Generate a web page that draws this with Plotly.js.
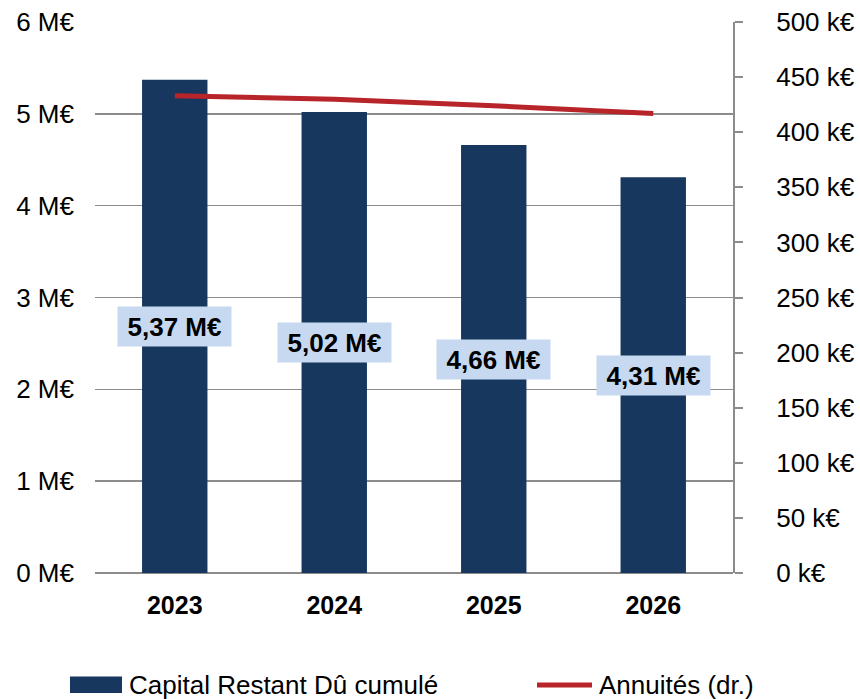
<!DOCTYPE html>
<html>
<head>
<meta charset="utf-8">
<script src="https://cdn.plot.ly/plotly-3.0.1.min.js"></script>
<style>html,body{margin:0;padding:0;background:#fff;}#chart{width:860px;height:699px;}</style>
</head>
<body>
<div id="chart"></div>
<script>
const years = ['2023', '2024', '2025', '2026'];
const capitalRestantDu = [5.37, 5.02, 4.66, 4.31];   // M€
const annuites = [433, 430, 424, 417];                // k€
const seriesNames = ['Capital Restant Dû cumulé', 'Annuités (dr.)'];

const FONT = 'Liberation Sans, Arial, sans-serif';
const BAR_COLOR = '#17375e';
const LINE_COLOR = '#b7242a';

const labels = capitalRestantDu.map(v => v.toFixed(2).replace('.', ',') + ' M€');

const traces = [
  {
    type: 'bar',
    name: seriesNames[0],
    x: years,
    y: capitalRestantDu,
    marker: {color: BAR_COLOR, line: {width: 0}},
    width: 0.41,
    yaxis: 'y',
    hoverinfo: 'skip',
    showlegend: false
  },
  {
    type: 'scatter',
    mode: 'lines',
    name: seriesNames[1],
    x: years,
    y: annuites,
    line: {color: LINE_COLOR, width: 5},
    yaxis: 'y2',
    hoverinfo: 'skip',
    showlegend: false
  }
];

const annotations = years.map((yr, i) => ({
  x: i, y: capitalRestantDu[i] / 2, xref: 'x', yref: 'y',
  text: labels[i], showarrow: false,
  font: {family: FONT, size: 26, color: '#000', weight: 'bold'},
  bgcolor: '#c6d9f1', width: 111, height: 37, borderpad: 1
}));

// custom legend (paper coords)
annotations.push(
  {xref: 'paper', yref: 'paper', x: 0.0502, y: -0.2033, xanchor: 'left', yanchor: 'middle',
   text: seriesNames[0], showarrow: false, font: {family: FONT, size: 26, color: '#000'}},
  {xref: 'paper', yref: 'paper', x: 0.787, y: -0.2033, xanchor: 'left', yanchor: 'middle',
   text: seriesNames[1], showarrow: false, font: {family: FONT, size: 26, color: '#000'}}
);
const shapes = [
  {type: 'rect', xref: 'paper', yref: 'paper', x0: -0.0392, x1: 0.0423, y0: -0.218, y1: -0.188,
   fillcolor: BAR_COLOR, line: {width: 0}},
  {type: 'line', xref: 'paper', yref: 'paper', x0: 0.6928, x1: 0.779, y0: -0.2033, y1: -0.2033,
   line: {color: LINE_COLOR, width: 5}}
];

const layout = {
  width: 860, height: 699,
  margin: {l: 95, r: 127, t: 22, b: 126},
  paper_bgcolor: '#fff', plot_bgcolor: '#fff',
  font: {family: FONT, size: 26, color: '#000'},
  showlegend: false,
  xaxis: {
    type: 'category', range: [-0.5, 3.5], autorange: false,
    showgrid: false, showline: false, zeroline: false, ticks: '',
    tickfont: {family: FONT, size: 25, color: '#000', weight: 'bold'},
    ticklabelstandoff: 15
  },
  yaxis: {
    range: [0, 6], autorange: false, dtick: 1, tick0: 0,
    ticksuffix: ' M€',
    showgrid: true, gridcolor: '#8c8c8c', gridwidth: 1.5,
    zeroline: true, zerolinecolor: '#8c8c8c', zerolinewidth: 1.5,
    showline: false, ticks: '',
    tickfont: {family: FONT, size: 26, color: '#000'},
    ticklabelstandoff: 20
  },
  yaxis2: {
    overlaying: 'y', side: 'right',
    range: [0, 500], autorange: false, dtick: 50, tick0: 0,
    ticksuffix: ' k€',
    showgrid: false, zeroline: false,
    showline: true, linecolor: '#8c8c8c', linewidth: 2,
    ticks: 'outside', ticklen: 8, tickwidth: 2, tickcolor: '#8c8c8c',
    tickfont: {family: FONT, size: 26, color: '#000'},
    ticklabelstandoff: 28
  },
  annotations: annotations,
  shapes: shapes
};

Plotly.newPlot('chart', traces, layout, {staticPlot: true, displayModeBar: false});
</script>
</body>
</html>
